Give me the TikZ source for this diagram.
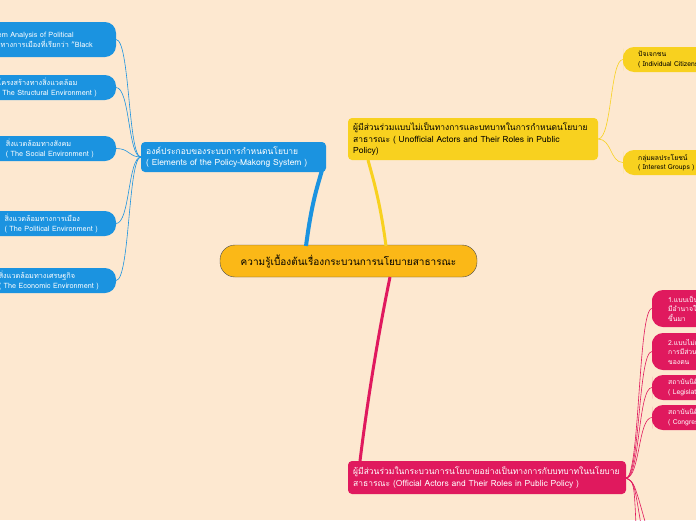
\documentclass[tikz,border=0pt]{standalone}
\usepackage{fontspec}
\setmainfont[Script=Thai]{Loma}
\definecolor{bg}{HTML}{FDE8D0}
\definecolor{cblue}{HTML}{1B93E0}
\definecolor{cyel}{HTML}{F8D11F}
\definecolor{cpink}{HTML}{E0195E}
\definecolor{corange}{HTML}{FBB817}
\tikzset{
  mainbox/.style={rounded corners=4pt,inner sep=4pt,align=left,anchor=north west,font=\fontsize{8.5}{11.5}\selectfont},
  leafbox/.style={inner sep=0pt,align=left,font=\fontsize{7.3}{10}\selectfont,text=white},
  thin/.style={line width=0.6pt},
}
\begin{document}
\begin{tikzpicture}[x=1pt,y=-1pt]
\fill[bg] (0,0) rectangle (696,520);
\clip (0,0) rectangle (696,520);
% center
\node[draw=black!70,fill=corange,rounded corners=15pt,minimum width=257pt,minimum height=32pt,font=\fontsize{10}{11}\selectfont] (c) at (348.5,261) {ความรู้เบื้องต้นเรื่องกระบวนการนโยบายสาธารณะ};
% blue
\fill[cblue,rounded corners=4pt] (141,142) rectangle (326,172);
\node[mainbox,fill=none,text=white,anchor=west,inner sep=0pt] (b) at (146,157) {องค์ประกอบของระบบการกำหนดนโยบาย\\( Elements of the Policy-Makong System )};
\draw[cblue,line width=4pt] (306,246) .. controls (312,200) and (318,185) .. (322,170);
\foreach \n/\y/\h/\x/\t in {
 b1/22/35/93/{System Analysis of Political\\ระบบทางการเมืองที่เรียกว่า "Black},
 b2/75/25/97/{โครงสร้างทางสิ่งแวดล้อม\\( The Structural Environment )},
 b3/136/25/94/{สิ่งแวดล้อมทางสังคม\\( The Social Environment )},
 b4/211/25/98/{สิ่งแวดล้อมทางการเมือง\\( The Political Environment )},
 b5/268/25/99/{สิ่งแวดล้อมทางเศรษฐกิจ\\( The Economic Environment )}}{
 \fill[cblue] (-40,\y) [rounded corners=11pt] -- (116,\y) -- (116,\y+\h) [sharp corners] -- (-40,\y+\h) -- cycle;
 \node[leafbox,anchor=east] (\n) at (\x,\y+\h/2) {\t};
 \draw[cblue,thin] (141,157) .. controls (128,157) and (130,\y+\h/2) .. (116,\y+\h/2);
}
% yellow
\fill[cyel,rounded corners=4pt] (348,118) rectangle (598,160);
\node[mainbox,text=black,inner sep=0pt,anchor=west] (y) at (353,139) {ผู้มีส่วนร่วมแบบไม่เป็นทางการและบทบาทในการกำหนดนโยบาย\\สาธารณะ ( Unofficial Actors and Their Roles in Public\\Policy)};
\draw[cyel,line width=3pt] (386,246) .. controls (380,200) and (372,175) .. (368,160);
\foreach \n/\y/\t in {y1/47/{ปัจเจกชน\\( Individual Citizens )},y2/150/{กลุ่มผลประโยชน์\\( Interest Groups )}}{
 \fill[cyel] (623,\y+12.5) [rounded corners=11pt] -- (623,\y) -- (720,\y) -- (720,\y+25) -- (623,\y+25) -- cycle;
 \node[leafbox,text=black,anchor=west,font=\fontsize{6.8}{9.5}\selectfont] (\n) at (638,\y+12.5) {\t};
 \draw[cyel,thin] (598,139) .. controls (612,139) and (610,\y+12.5) .. (623,\y+12.5);
}
% pink
\fill[cpink,rounded corners=4pt] (348,461) rectangle (626,494);
\node[mainbox,text=white,inner sep=0pt,anchor=west] (p) at (353,477.5) {ผู้มีส่วนร่วมในกระบวนการนโยบายอย่างเป็นทางการกับบทบาทในนโยบาย\\สาธารณะ (Official Actors and Their Roles in Public Policy )};
\draw[cpink,line width=3pt] (390,277) .. controls (375,350) and (365,420) .. (360,461);
\foreach \n/\y/\h/\t in {
 p1/290/37/{1.แบบเป็นทางการที่\\มีอำนาจในการกำหนด\\ขึ้นมา},
 p2/333/37/{2.แบบไม่เป็นทางการ\\การมีส่วนร่วม\\ของตน},
 p3/375/25/{สถาบันนิติบัญญัติ\\( Legislatures )},
 p4/405/25/{สถาบันนิติบัญญัติ\\( Congress )}}{
 \fill[cpink] (652,\y+\h/2) [rounded corners=11pt] -- (652,\y) -- (720,\y) -- (720,\y+\h) -- (652,\y+\h) -- cycle;
 \node[leafbox,anchor=west,font=\fontsize{6.8}{9.5}\selectfont] (\n) at (668,\y+\h/2) {\t};
 \draw[cpink,thin] (626,478) .. controls (640,478) and (638,\y+\h/2) .. (652,\y+\h/2);
}
\coordinate (e1) at (636,525);
\coordinate (e2) at (641,525);
\coordinate (e3) at (646,525);
\foreach \e in {e1,e2,e3}{\draw[cpink,thin] (626,478) .. controls (634,482) .. (\e);}
\end{tikzpicture}
\end{document}
